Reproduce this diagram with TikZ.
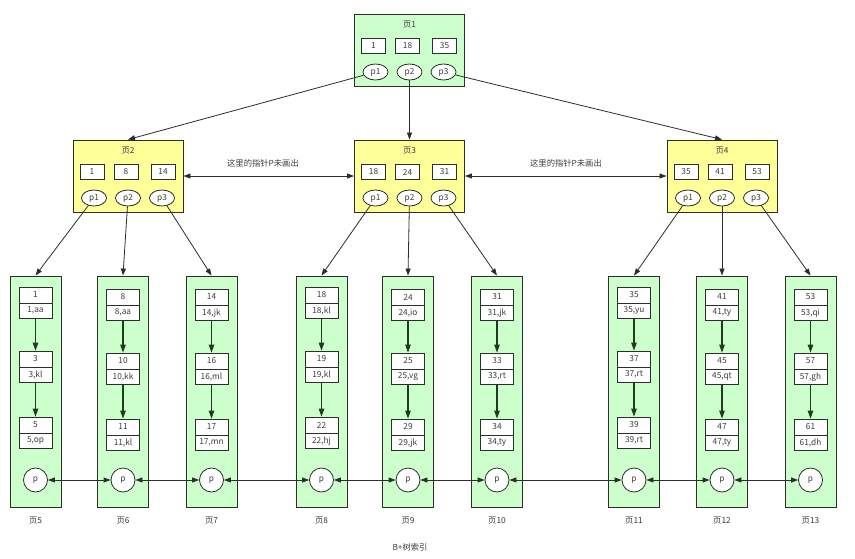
\documentclass[tikz,border=0pt]{standalone}
\usepackage{fontspec}
\setmainfont{Noto Sans CJK SC}
\usetikzlibrary{arrows.meta,shapes.geometric}
\definecolor{leafgreen}{RGB}{204,255,204}
\definecolor{inyellow}{RGB}{255,255,153}
\definecolor{bordc}{RGB}{40,48,40}
\definecolor{arrc}{RGB}{45,45,45}
\definecolor{garrc}{RGB}{30,60,30}
\definecolor{txtc}{RGB}{60,60,60}
\tikzset{
  ipagebox/.style={draw=bordc, line width=0.9pt, minimum width=110pt, minimum height=72pt, inner sep=0pt},
  ttl/.style={text=txtc, inner sep=0pt},
  keybox/.style={draw=bordc, line width=0.8pt, fill=white, minimum width=24pt, minimum height=15pt, inner sep=0pt, text=txtc},
  ptr/.style={ellipse, draw=bordc, line width=0.8pt, fill=white, minimum width=25pt, minimum height=16pt, inner sep=0pt, text=txtc},
  leafbox/.style={draw=bordc, line width=0.9pt, fill=leafgreen, minimum width=51pt, minimum height=231pt, inner sep=0pt},
  reckey/.style={draw=bordc, line width=0.8pt, fill=white, minimum width=33pt, minimum height=16pt, inner sep=0pt, text=txtc},
  recval/.style={draw=bordc, line width=0.8pt, fill=white, minimum width=33pt, minimum height=15.5pt, inner sep=0pt, text=txtc},
  pcirc/.style={circle, draw=bordc, line width=0.8pt, fill=white, minimum size=24pt, inner sep=0pt, text=txtc},
  treearrow/.style={draw=arrc, line width=0.8pt, -{Triangle[length=7pt,width=5pt]}},
  dblarrow/.style={draw=arrc, line width=0.8pt, {Triangle[length=7pt,width=5pt]}-{Triangle[length=7pt,width=5pt]}},
  recarrow/.style={draw=garrc, line width=1.1pt, -{Triangle[length=8pt,width=5.5pt]}},
  lbl/.style={text=txtc, inner sep=0pt}
}
\newcommand\ipage[8]{%
  \node[ipagebox, fill=#8] (#1) at (#2,#3+36) {};
  \node[ttl] (#1t) at (#2,#3+11) {#4};
  \node[keybox] (#1k1) at (#2-36,#3+32) {#5};
  \node[keybox] (#1k2) at (#2-2,#3+32) {#6};
  \node[keybox] (#1k3) at (#2+35,#3+32) {#7};
  \node[ptr] (#1p1) at (#2-34,#3+58) {p1};
  \node[ptr] (#1p2) at (#2,#3+58) {p2};
  \node[ptr] (#1p3) at (#2+34,#3+58) {p3};
}
\newcommand\leafpage[3]{%
  \node[leafbox] (#1) at (#2,391.5) {};
  \node[lbl] (#1l) at (#2,521) {#3};
  \node[pcirc] (#1c) at (#2,480) {p};
}
\newcommand\rec[5]{%
  \node[reckey] (#1k) at (#2,#3+8) {#4};
  \node[recval] (#1v) at (#2,#3+23.75) {#5};
}
\begin{document}
\begin{tikzpicture}[x=1pt,y=-1pt,font=\fontsize{8.3}{10}\selectfont]
\useasboundingbox[fill=white] (0,0) rectangle (855,558);
% internal pages
\ipage{pa}{409.5}{14}{页1}{1}{18}{35}{leafgreen}
\ipage{pb}{128}{140}{页2}{1}{8}{14}{inyellow}
\ipage{pc}{409.5}{140}{页3}{18}{24}{31}{inyellow}
\ipage{pd}{722}{140}{页4}{35}{41}{53}{inyellow}
% leaf pages
\leafpage{l5}{35.5}{页5}
\leafpage{l6}{123}{页6}
\leafpage{l7}{211.5}{页7}
\leafpage{l8}{321.5}{页8}
\leafpage{l9}{408}{页9}
\leafpage{l10}{497}{页10}
\leafpage{l11}{634}{页11}
\leafpage{l12}{722}{页12}
\leafpage{l13}{810.5}{页13}
% records
\rec{r5a}{35.5}{287}{1}{1,aa}
\rec{r5b}{35.5}{351}{3}{3,kl}
\rec{r5c}{35.5}{417}{5}{5,op}
\rec{r6a}{123}{289}{8}{8,aa}
\rec{r6b}{123}{353}{10}{10,kk}
\rec{r6c}{123}{419}{11}{11,kl}
\rec{r7a}{211.5}{289}{14}{14,jk}
\rec{r7b}{211.5}{353}{16}{16,ml}
\rec{r7c}{211.5}{419}{17}{17,mn}
\rec{r8a}{321.5}{287}{18}{18,kl}
\rec{r8b}{321.5}{351}{19}{19,kl}
\rec{r8c}{321.5}{417}{22}{22,hj}
\rec{r9a}{408}{289}{24}{24,io}
\rec{r9b}{408}{353}{25}{25,vg}
\rec{r9c}{408}{419}{29}{29,jk}
\rec{r10a}{497}{289}{31}{31,jk}
\rec{r10b}{497}{353}{33}{33,rt}
\rec{r10c}{497}{419}{34}{34,ty}
\rec{r11a}{634}{287}{35}{35,yu}
\rec{r11b}{634}{351}{37}{37,rt}
\rec{r11c}{634}{417}{39}{39,rt}
\rec{r12a}{722}{289}{41}{41,ty}
\rec{r12b}{722}{353}{45}{45,qt}
\rec{r12c}{722}{419}{47}{47,ty}
\rec{r13a}{810.5}{289}{53}{53,qi}
\rec{r13b}{810.5}{353}{57}{57,gh}
\rec{r13c}{810.5}{419}{61}{61,dh}
% record arrows
\foreach \n in {5,6,7,8,9,10,11,12,13}{
  \draw[recarrow] (r\n av.south) -- (r\n bk.north);
  \draw[recarrow] (r\n bv.south) -- (r\n ck.north);
}
% tree arrows
\draw[treearrow] (pap1) -- (pb.north);
\draw[treearrow] (pap2) -- (pc.north);
\draw[treearrow] (pap3) -- (pd.north);
\draw[treearrow] (pbp1) -- (l5.north);
\draw[treearrow] (pbp2) -- (l6.north);
\draw[treearrow] (pbp3) -- (l7.north);
\draw[treearrow] (pcp1) -- (l8.north);
\draw[treearrow] (pcp2) -- (l9.north);
\draw[treearrow] (pcp3) -- (l10.north);
\draw[treearrow] (pdp1) -- (l11.north);
\draw[treearrow] (pdp2) -- (l12.north);
\draw[treearrow] (pdp3) -- (l13.north);
% sibling arrows
\draw[dblarrow] (pb.east) -- (pc.west);
\draw[dblarrow] (pc.east) -- (pd.west);
\node[lbl] (n1) at (263,163) {这里的指针P未画出};
\node[lbl] (n2) at (566,163) {这里的指针P未画出};
\draw[dblarrow] (l5c) -- (l6c);
\draw[dblarrow] (l6c) -- (l7c);
\draw[dblarrow] (l7c) -- (l8c);
\draw[dblarrow] (l8c) -- (l9c);
\draw[dblarrow] (l9c) -- (l10c);
\draw[dblarrow] (l10c) -- (l11c);
\draw[dblarrow] (l11c) -- (l12c);
\draw[dblarrow] (l12c) -- (l13c);
\node[lbl] (cap) at (410,547) {B+树索引};
\end{tikzpicture}
\end{document}
